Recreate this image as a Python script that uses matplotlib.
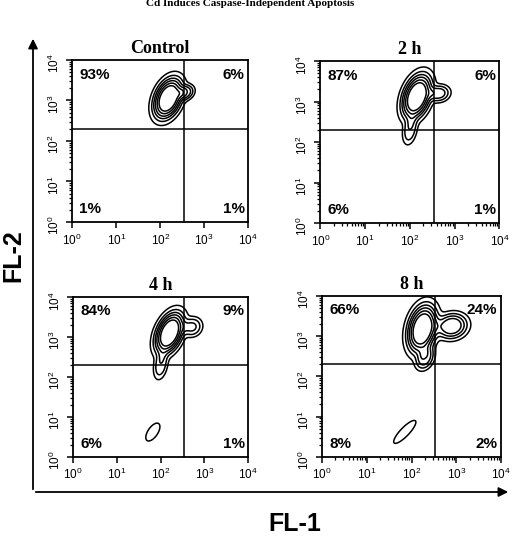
import matplotlib
matplotlib.use("Agg")
import matplotlib.pyplot as plt
import numpy as np

plt.rcParams['font.family'] = ['Liberation Sans', 'DejaVu Sans']

# panel titles and quadrant percentages (UL, UR, LL, LR)
titles = ["Control", "2 h", "4 h", "8 h"]
pct_ul = ["93%", "87%", "84%", "66%"]
pct_ur = ["6%", "6%", "9%", "24%"]
pct_ll = ["1%", "6%", "6%", "8%"]
pct_lr = ["1%", "1%", "1%", "2%"]

# quadrant gate (FL-1, FL-2)
gate_x = 340
gate_y = 200

# population blobs per panel, in log10 units:
# (center FL-1, center FL-2, sd x, sd y, correlation, weight)
blobs = [
    [(2.18, 3.05, 0.21, 0.32, 0.35, 1.0),
     (2.58, 3.20, 0.12, 0.12, 0.2, 0.35)],
    [(2.15, 3.12, 0.21, 0.35, 0.35, 1.0),
     (2.00, 2.30, 0.10, 0.22, 0.3, 0.25),
     (2.65, 3.20, 0.15, 0.13, 0.1, 0.35)],
    [(2.20, 3.10, 0.21, 0.33, 0.40, 1.0),
     (2.00, 2.30, 0.10, 0.22, 0.3, 0.25),
     (2.72, 3.25, 0.14, 0.15, 0.1, 0.30),
     (1.82, 0.62, 0.13, 0.18, 0.6, 0.10)],
    [(2.24, 3.18, 0.21, 0.38, 0.25, 1.0),
     (2.30, 2.45, 0.13, 0.18, 0.3, 0.35),
     (2.90, 3.25, 0.22, 0.20, 0.1, 0.55),
     (1.85, 0.62, 0.20, 0.23, 0.85, 0.10)],
]
levels = [0.05, 0.15, 0.27, 0.40, 0.55, 0.70]

# axes rectangles in figure fraction
rects = [
    [0.140, 0.589, 0.341, 0.300],
    [0.621, 0.587, 0.347, 0.300],
    [0.142, 0.154, 0.339, 0.296],
    [0.624, 0.154, 0.347, 0.298],
]

fig = plt.figure(figsize=(5.16, 5.4), dpi=100)

g = np.linspace(0, 4, 300)
LX, LY = np.meshgrid(g, g)

for i in range(4):
    ax = fig.add_axes(rects[i])
    z = np.zeros_like(LX)
    for (cx, cy, sx, sy, r, w) in blobs[i]:
        dx = (LX - cx) / sx
        dy = (LY - cy) / sy
        q = (dx**2 - 2 * r * dx * dy + dy**2) / (1 - r**2)
        z += w * np.exp(-(0.5 * q) ** 1.4)
    z = z / z.max()
    ax.contour(10**LX, 10**LY, z, levels=levels, colors='black', linewidths=1.1)
    ax.set_xscale('log')
    ax.set_yscale('log')
    ax.set_xlim(1, 1e4)
    ax.set_ylim(1, 1e4)
    ax.axvline(gate_x, color='black', lw=1.1)
    ax.axhline(gate_y, color='black', lw=1.1)
    for s in ax.spines.values():
        s.set_linewidth(1.3)
    ax.tick_params(which='major', direction='out', length=4, width=1.1, labelsize=8.5)
    ax.tick_params(which='minor', direction='out', length=2.5, width=0.9)
    ax.tick_params(axis='y', labelrotation=90)
    ax.set_xticks([1, 10, 100, 1000, 10000])
    ax.set_yticks([1, 10, 100, 1000, 10000])
    kw = dict(fontsize=11, fontweight='bold', transform=ax.transAxes)
    ax.text(0.04, 0.91, pct_ul[i], ha='left', va='center', **kw)
    ax.text(0.98, 0.91, pct_ur[i], ha='right', va='center', **kw)
    ax.text(0.04, 0.08, pct_ll[i], ha='left', va='center', **kw)
    ax.text(0.98, 0.08, pct_lr[i], ha='right', va='center', **kw)
    ax.set_title(titles[i], fontsize=13, fontweight='bold', family='Liberation Serif', pad=5)

# big axis arrows
fig.add_artist(matplotlib.patches.FancyArrowPatch(
    (33 / 516, 1 - 492 / 540), (33 / 516, 1 - 36 / 540), transform=fig.transFigure,
    arrowstyle='-|>', mutation_scale=14, lw=1.3, color='black'))
fig.add_artist(matplotlib.patches.FancyArrowPatch(
    (33 / 516, 1 - 492 / 540), (511 / 516, 1 - 492 / 540), transform=fig.transFigure,
    arrowstyle='-|>', mutation_scale=14, lw=1.3, color='black'))

fig.text(295 / 516, 1 - 524 / 540, "FL-1", fontsize=18, fontweight='bold', ha='center', va='center')
fig.text(13 / 516, 1 - 256 / 540, "FL-2", fontsize=18, fontweight='bold', ha='center', va='center',
         rotation=90)
fig.text(250 / 516, 1 - 4 / 540, "Cd Induces Caspase-Independent Apoptosis", fontsize=8,
         fontweight='bold', family='Liberation Serif', ha='center', va='center')

fig.savefig("out.png", dpi=100)
